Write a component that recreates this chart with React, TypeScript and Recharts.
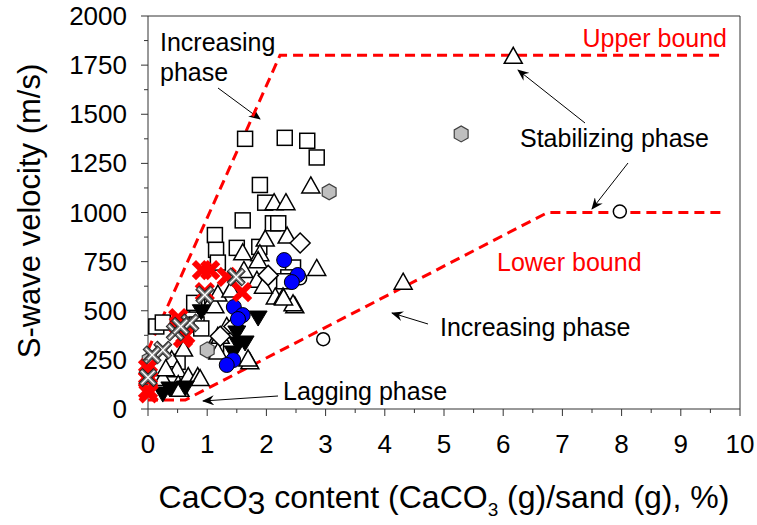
import React from 'react';
import { ScatterChart, Scatter, XAxis, YAxis, ReferenceLine, Customized } from 'recharts';

// CaCO3 content (%) vs S-wave velocity (m/s)
const squarePts = [
  { x: 1.64, y: 1375 }, { x: 2.31, y: 1380 }, { x: 2.69, y: 1365 }, { x: 2.85, y: 1280 },
  { x: 1.89, y: 1140 }, { x: 1.98, y: 1050 }, { x: 1.6, y: 960 }, { x: 2.11, y: 945 },
  { x: 2.2, y: 945 }, { x: 1.13, y: 885 }, { x: 1.15, y: 810 }, { x: 1.5, y: 820 },
  { x: 1.88, y: 825 }, { x: 1.18, y: 745 }, { x: 2.45, y: 720 }, { x: 2.37, y: 670 },
  { x: 2.3, y: 650 }, { x: 0.83, y: 520 }, { x: 0.14, y: 420 }, { x: 0.25, y: 440 },
  { x: 0.76, y: 455 }, { x: 0.82, y: 430 }, { x: 0.5, y: 240 }, { x: 1.15, y: 300 },
  { x: 0.9, y: 410 }, { x: 0.78, y: 540 },
];
const trianglePts = [
  { x: 6.17, y: 1790 }, { x: 4.31, y: 640 }, { x: 2.75, y: 1130 }, { x: 2.13, y: 1045 },
  { x: 2.33, y: 1045 }, { x: 1.98, y: 860 }, { x: 2.35, y: 875 }, { x: 1.6, y: 790 },
  { x: 1.89, y: 785 }, { x: 1.86, y: 750 }, { x: 1.62, y: 700 }, { x: 1.84, y: 650 },
  { x: 2.85, y: 710 }, { x: 2.15, y: 565 }, { x: 2.28, y: 565 }, { x: 2.48, y: 520 },
  { x: 1.72, y: 235 }, { x: 1.18, y: 365 }, { x: 0.4, y: 245 }, { x: 0.49, y: 195 },
  { x: 0.68, y: 160 }, { x: 0.84, y: 160 }, { x: 0.51, y: 120 }, { x: 1.05, y: 530 },
  { x: 1.33, y: 415 }, { x: 1.22, y: 365 }, { x: 1.18, y: 285 }, { x: 1.69, y: 250 },
  { x: 2.45, y: 530 }, { x: 2.29, y: 560 }, { x: 1.13, y: 520 }, { x: 1.18, y: 580 },
  { x: 0.25, y: 150 }, { x: 0.54, y: 95 }, { x: 0.88, y: 150 }, { x: 1.4, y: 600 },
  { x: 1.95, y: 620 }, { x: 0.6, y: 300 }, { x: 0.3, y: 200 },
];
const diamondPts = [
  { x: 2.57, y: 845 }, { x: 2.03, y: 680 }, { x: 1.22, y: 370 }, { x: 1.45, y: 420 },
];
const circlePts = [
  { x: 7.97, y: 1005 }, { x: 2.96, y: 355 }, { x: 2.57, y: 665 },
];
const hexPts = [
  { x: 5.29, y: 1400 }, { x: 3.06, y: 1105 }, { x: 1.0, y: 300 }, { x: 0.02, y: 250 },
];
const blackTriPts = [
  { x: 1.86, y: 468 }, { x: 1.5, y: 392 }, { x: 1.52, y: 336 }, { x: 1.44, y: 290 },
  { x: 0.37, y: 107 }, { x: 0.25, y: 81 }, { x: 0.63, y: 112 }, { x: 1.64, y: 341 },
  { x: 0.9, y: 500 },
];
const bluePts = [
  { x: 2.3, y: 758 }, { x: 2.53, y: 682 }, { x: 2.43, y: 646 }, { x: 1.45, y: 519 },
  { x: 1.6, y: 478 }, { x: 1.52, y: 458 }, { x: 1.44, y: 249 }, { x: 1.33, y: 224 },
];
const redXPts = [
  { x: 0.91, y: 707 }, { x: 1.05, y: 707 }, { x: 1.33, y: 672 }, { x: 1.59, y: 595 },
  { x: 0.96, y: 595 }, { x: 0.51, y: 463 }, { x: 0.52, y: 427 }, { x: 0.59, y: 361 },
  { x: 0.63, y: 377 }, { x: 0.0, y: 208 }, { x: 0.0, y: 150 }, { x: 0.0, y: 97 },
  { x: 0.01, y: 80 }, { x: 0.0, y: 170 },
];
const grayXPts = [
  { x: 1.49, y: 672 }, { x: 0.96, y: 580 }, { x: 0.71, y: 438 }, { x: 0.46, y: 392 },
  { x: 0.25, y: 300 }, { x: 0.07, y: 275 }, { x: 0.0, y: 160 }, { x: 0.55, y: 420 },
];

// bounds
const upperBound = [{ x: 0, y: 300 }, { x: 2.23, y: 1800 }, { x: 9.7, y: 1800 }];
const lowerBound = [{ x: 0, y: 46 }, { x: 0.63, y: 46 }, { x: 6.75, y: 1000 }, { x: 9.7, y: 1000 }];

const xTicks = [0, 0.5, 1, 1.5, 2, 2.5, 3, 3.5, 4, 4.5, 5, 5.5, 6, 6.5, 7, 7.5, 8, 8.5, 9, 9.5, 10];
const yTicks = [0, 125, 250, 375, 500, 625, 750, 875, 1000, 1125, 1250, 1375, 1500, 1625, 1750, 1875, 2000];

const FONT = 'Liberation Sans, Arial, sans-serif';
const AX = '#333';

const XTick = (props: any) => {
  const { x, y, payload } = props;
  const major = Number.isInteger(payload.value);
  return (
    <g>
      <line x1={x} y1={y} x2={x} y2={y + (major ? 7 : 4)} stroke={AX} />
      {major && (
        <text x={x} y={y + 44} textAnchor="middle" fontSize={26} fontFamily={FONT} fill="#000">
          {payload.value}
        </text>
      )}
    </g>
  );
};

const YTick = (props: any) => {
  const { x, y, payload } = props;
  const major = payload.value % 250 === 0;
  return (
    <g>
      <line x1={x - (major ? 7 : 4)} y1={y} x2={x} y2={y} stroke={AX} />
      {major && (
        <text x={x - 21} y={y + 9} textAnchor="end" fontSize={26} fontFamily={FONT} fill="#000">
          {payload.value}
        </text>
      )}
    </g>
  );
};

const Square = ({ cx, cy }: any) => (
  <rect x={cx - 7.5} y={cy - 7.5} width={15} height={15} fill="#fff" stroke="#000" strokeWidth={1.5} />
);
const Triangle = ({ cx, cy }: any) => (
  <polygon points={`${cx},${cy - 10} ${cx + 9},${cy + 6} ${cx - 9},${cy + 6}`} fill="#fff" stroke="#000" strokeWidth={1.5} />
);
const Diamond = ({ cx, cy }: any) => (
  <polygon points={`${cx},${cy - 10} ${cx + 10},${cy} ${cx},${cy + 10} ${cx - 10},${cy}`} fill="#fff" stroke="#000" strokeWidth={1.5} />
);
const OpenCircle = ({ cx, cy }: any) => (
  <circle cx={cx} cy={cy} r={6.5} fill="#fff" stroke="#000" strokeWidth={1.5} />
);
const Hexagon = ({ cx, cy }: any) => {
  const pts = [0, 1, 2, 3, 4, 5]
    .map((i) => {
      const a = (Math.PI / 3) * i + Math.PI / 6;
      return `${cx + 8 * Math.cos(a)},${cy + 8 * Math.sin(a)}`;
    })
    .join(' ');
  return <polygon points={pts} fill="#bfbfbf" stroke="#404040" strokeWidth={1.2} />;
};
const BlackTri = ({ cx, cy }: any) => (
  <polygon points={`${cx - 9},${cy - 6} ${cx + 9},${cy - 6} ${cx},${cy + 9}`} fill="#000" stroke="#000" strokeWidth={1} />
);
const BlueDot = ({ cx, cy }: any) => (
  <circle cx={cx} cy={cy} r={7.5} fill="#0000ff" stroke="#000" strokeWidth={1} />
);
const RedX = ({ cx, cy }: any) => (
  <g stroke="#ff0000" strokeWidth={6}>
    <line x1={cx - 8} y1={cy - 8} x2={cx + 8} y2={cy + 8} />
    <line x1={cx - 8} y1={cy + 8} x2={cx + 8} y2={cy - 8} />
  </g>
);
const GrayX = ({ cx, cy }: any) => (
  <g>
    <g stroke="#222" strokeWidth={6}>
      <line x1={cx - 7.5} y1={cy - 7.5} x2={cx + 7.5} y2={cy + 7.5} />
      <line x1={cx - 7.5} y1={cy + 7.5} x2={cx + 7.5} y2={cy - 7.5} />
    </g>
    <g stroke="#777" strokeWidth={4}>
      <line x1={cx - 7} y1={cy - 7} x2={cx + 7} y2={cy + 7} />
      <line x1={cx - 7} y1={cy + 7} x2={cx + 7} y2={cy - 7} />
    </g>
    <g stroke="#fff" strokeWidth={1.3}>
      <line x1={cx - 6.5} y1={cy - 6.5} x2={cx + 6.5} y2={cy + 6.5} />
      <line x1={cx - 6.5} y1={cy + 6.5} x2={cx + 6.5} y2={cy - 6.5} />
    </g>
  </g>
);
const NoDot = () => <g />;

const arrows = [
  [218, 88, 260, 119],
  [585, 123, 518, 70],
  [628, 163, 592, 209],
  [428, 324, 392, 313],
  [278, 396, 203, 401],
];

const Annotations = () => (
  <g fontFamily={FONT}>
    <defs>
      <marker id="ah" viewBox="0 0 12 10" refX="11" refY="5" markerWidth="12" markerHeight="10" markerUnits="userSpaceOnUse" orient="auto">
        <path d="M0,0 L12,5 L0,10 L4,5 z" fill="#000" />
      </marker>
    </defs>
    {arrows.map((a, i) => (
      <line key={i} x1={a[0]} y1={a[1]} x2={a[2]} y2={a[3]} stroke="#000" strokeWidth={1} markerEnd="url(#ah)" />
    ))}
    <text x={160} y={51} fontSize={25}>Increasing</text>
    <text x={160} y={81} fontSize={25}>phase</text>
    <text x={727} y={47} fontSize={25} fill="#ff0000" textAnchor="end">Upper bound</text>
    <text x={520} y={147} fontSize={25}>Stabilizing phase</text>
    <text x={497} y={271} fontSize={25} fill="#ff0000">Lower bound</text>
    <text x={440} y={336} fontSize={25}>Increasing phase</text>
    <text x={283} y={400} fontSize={25}>Lagging phase</text>
    <text x={40} y={211} fontSize={31} textAnchor="middle" transform="rotate(-90 40 211)">
      S-wave velocity (m/s)
    </text>
    <text x={444} y={508} fontSize={32} textAnchor="middle">
      CaCO<tspan dy={6}>3</tspan>
      <tspan dy={-6}> content (CaCO</tspan>
      <tspan dy={8} fontSize={19}>3</tspan>
      <tspan dy={-8}> (g)/sand (g), %)</tspan>
    </text>
  </g>
);

export default function App() {
  return (
    <div style={{ position: 'absolute', left: 0, top: 0, background: '#fff' }}>
      <ScatterChart width={757} height={525} margin={{ top: 16, right: 17, bottom: 76, left: 88 }}>
        <XAxis
          type="number"
          dataKey="x"
          domain={[0, 10]}
          ticks={xTicks}
          interval={0}
          height={40}
          tickSize={0}
          tickMargin={0}
          tickLine={false}
          axisLine={{ stroke: AX }}
          tick={<XTick />}
        />
        <YAxis
          type="number"
          dataKey="y"
          domain={[0, 2000]}
          ticks={yTicks}
          interval={0}
          width={60}
          tickSize={0}
          tickMargin={0}
          tickLine={false}
          axisLine={{ stroke: AX }}
          tick={<YTick />}
        />
        <ReferenceLine y={2000} stroke={AX} />
        <ReferenceLine x={10} stroke={AX} />
        <Scatter data={upperBound} line={{ stroke: '#ff0000', strokeWidth: 3, strokeDasharray: '10 6' }} lineType="joint" shape={<NoDot />} isAnimationActive={false} />
        <Scatter data={lowerBound} line={{ stroke: '#ff0000', strokeWidth: 3, strokeDasharray: '10 6' }} lineType="joint" shape={<NoDot />} isAnimationActive={false} />
        <Scatter data={squarePts} shape={<Square />} isAnimationActive={false} />
        <Scatter data={trianglePts} shape={<Triangle />} isAnimationActive={false} />
        <Scatter data={diamondPts} shape={<Diamond />} isAnimationActive={false} />
        <Scatter data={circlePts} shape={<OpenCircle />} isAnimationActive={false} />
        <Scatter data={hexPts} shape={<Hexagon />} isAnimationActive={false} />
        <Scatter data={blackTriPts} shape={<BlackTri />} isAnimationActive={false} />
        <Scatter data={bluePts} shape={<BlueDot />} isAnimationActive={false} />
        <Scatter data={redXPts} shape={<RedX />} isAnimationActive={false} />
        <Scatter data={grayXPts} shape={<GrayX />} isAnimationActive={false} />
        <Customized component={<Annotations />} />
      </ScatterChart>
    </div>
  );
}
